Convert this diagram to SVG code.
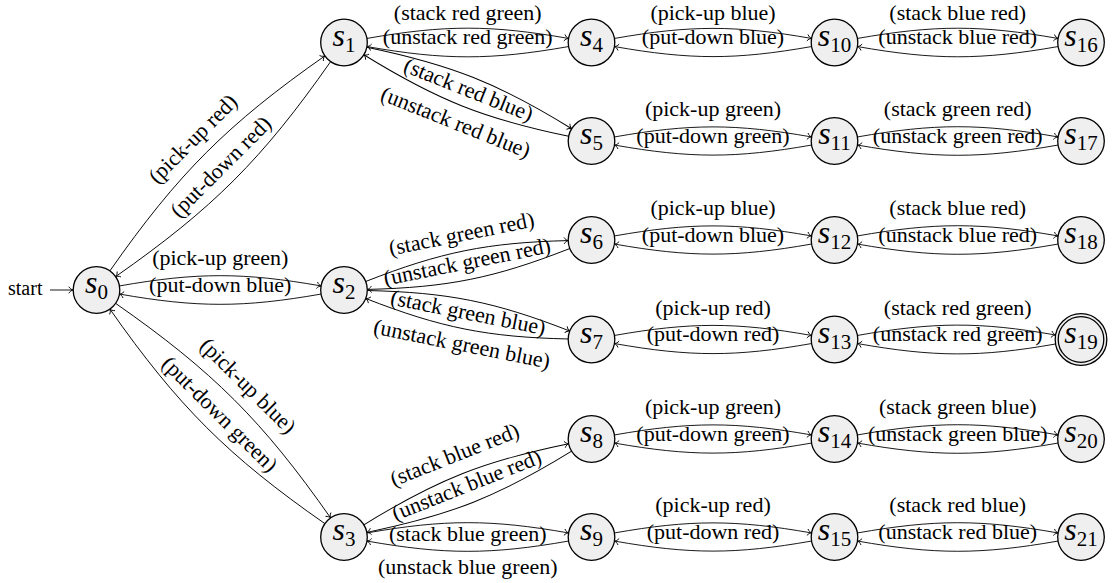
<svg xmlns="http://www.w3.org/2000/svg" width="1116" height="583" viewBox="0 0 1116 583">
<style>
.e{fill:none;stroke:#000;stroke-width:0.9;marker-end:url(#arr)}
.n{fill:#efefef;stroke:#000;stroke-width:1.3}
.l{font-family:"Liberation Serif",serif;font-size:22px;text-anchor:middle;fill:#000}
.nl{font-family:"Liberation Serif",serif;font-style:italic;font-size:32px;text-anchor:middle;fill:#000}
.sub{font-style:normal;font-size:21px}
</style>
<defs>
<marker id="arr" viewBox="-6 -5 8 10" refX="0" refY="0" markerWidth="8" markerHeight="10" markerUnits="userSpaceOnUse" orient="auto" overflow="visible">
<path d="M-4.2,-3.3 C-3,-1.2 -1.2,-0.3 0,0 C-1.2,0.3 -3,1.2 -4.2,3.3" fill="none" stroke="#000" stroke-width="0.9"/>
</marker>
</defs>
<rect width="1116" height="583" fill="#fff"/>
<g id="connectors">
<g id="start-arrow"><line class="e" x1="50" y1="290" x2="73" y2="290"/></g>
<g id="e0-1" transform="translate(96.5,290) rotate(-45)">
<path class="e" d="M22.95,-4.05 C140.19,-24.72 209.81,-24.72 327.05,-4.05"/>
<path class="e" d="M327.05,4.05 C209.81,24.72 140.19,24.72 22.95,4.05"/>
</g>
<g id="e0-2" transform="translate(96.5,290)">
<path class="e" d="M22.95,-4.05 C100.68,-17.75 146.82,-17.75 224.55,-4.05"/>
<path class="e" d="M224.55,4.05 C146.82,17.75 100.68,17.75 22.95,4.05"/>
</g>
<g id="e0-3" transform="translate(96.5,290) rotate(44.94)">
<path class="e" d="M22.95,-4.05 C140.19,-24.72 209.81,-24.72 326.75,-4.05"/>
<path class="e" d="M326.75,4.05 C209.81,24.72 140.19,24.72 22.95,4.05"/>
</g>
<g id="e1-4" transform="translate(344,42.5)">
<path class="e" d="M22.95,-4.05 C100.68,-17.75 146.82,-17.75 224.55,-4.05"/>
<path class="e" d="M224.55,4.05 C146.82,17.75 100.68,17.75 22.95,4.05"/>
</g>
<g id="e1-5" transform="translate(344,42.5) rotate(21.7)">
<path class="e" d="M22.95,-4.05 C107.97,-19.04 158.43,-19.04 243.45,-4.05"/>
<path class="e" d="M243.45,4.05 C158.43,19.04 107.97,19.04 22.95,4.05"/>
</g>
<g id="e2-6" transform="translate(344,290) rotate(-11.42)">
<path class="e" d="M22.95,-4.05 C102.6,-18.09 149.9,-18.09 229.55,-4.05"/>
<path class="e" d="M229.55,4.05 C149.9,18.09 102.6,18.09 22.95,4.05"/>
</g>
<g id="e2-7" transform="translate(344,290) rotate(11.31)">
<path class="e" d="M22.95,-4.05 C102.6,-18.09 149.9,-18.09 229.45,-4.05"/>
<path class="e" d="M229.45,4.05 C149.9,18.09 102.6,18.09 22.95,4.05"/>
</g>
<g id="e3-8" transform="translate(344,537) rotate(-21.6)">
<path class="e" d="M22.95,-4.05 C107.97,-19.04 158.23,-19.04 243.25,-4.05"/>
<path class="e" d="M243.25,4.05 C158.23,19.04 107.97,19.04 22.95,4.05"/>
</g>
<g id="e3-9" transform="translate(344,537)">
<path class="e" d="M22.95,-4.05 C100.68,-17.75 146.82,-17.75 224.55,-4.05"/>
<path class="e" d="M224.55,4.05 C146.82,17.75 100.68,17.75 22.95,4.05"/>
</g>
<g id="e4-10" transform="translate(591.5,42.5)">
<path class="e" d="M22.95,-4.05 C98.94,-17.45 144.06,-17.45 220.05,-4.05"/>
<path class="e" d="M220.05,4.05 C144.06,17.45 98.94,17.45 22.95,4.05"/>
</g>
<g id="e5-11" transform="translate(591.5,141)">
<path class="e" d="M22.95,-4.05 C98.94,-17.45 144.06,-17.45 220.05,-4.05"/>
<path class="e" d="M220.05,4.05 C144.06,17.45 98.94,17.45 22.95,4.05"/>
</g>
<g id="e6-12" transform="translate(591.5,240)">
<path class="e" d="M22.95,-4.05 C98.94,-17.45 144.06,-17.45 220.05,-4.05"/>
<path class="e" d="M220.05,4.05 C144.06,17.45 98.94,17.45 22.95,4.05"/>
</g>
<g id="e7-13" transform="translate(591.5,339.5)">
<path class="e" d="M22.95,-4.05 C98.94,-17.45 144.06,-17.45 220.05,-4.05"/>
<path class="e" d="M220.05,4.05 C144.06,17.45 98.94,17.45 22.95,4.05"/>
</g>
<g id="e8-14" transform="translate(591.5,439)">
<path class="e" d="M22.95,-4.05 C98.94,-17.45 144.06,-17.45 220.05,-4.05"/>
<path class="e" d="M220.05,4.05 C144.06,17.45 98.94,17.45 22.95,4.05"/>
</g>
<g id="e9-15" transform="translate(591.5,537)">
<path class="e" d="M22.95,-4.05 C98.94,-17.45 144.06,-17.45 220.05,-4.05"/>
<path class="e" d="M220.05,4.05 C144.06,17.45 98.94,17.45 22.95,4.05"/>
</g>
<g id="e10-16" transform="translate(834.5,42.5)">
<path class="e" d="M22.95,-4.05 C100.29,-17.68 146.21,-17.68 223.55,-4.05"/>
<path class="e" d="M223.55,4.05 C146.21,17.68 100.29,17.68 22.95,4.05"/>
</g>
<g id="e11-17" transform="translate(834.5,141)">
<path class="e" d="M22.95,-4.05 C100.29,-17.68 146.21,-17.68 223.55,-4.05"/>
<path class="e" d="M223.55,4.05 C146.21,17.68 100.29,17.68 22.95,4.05"/>
</g>
<g id="e12-18" transform="translate(834.5,240)">
<path class="e" d="M22.95,-4.05 C100.29,-17.68 146.21,-17.68 223.55,-4.05"/>
<path class="e" d="M223.55,4.05 C146.21,17.68 100.29,17.68 22.95,4.05"/>
</g>
<g id="e13-19" transform="translate(834.5,339.5)">
<path class="e" d="M22.95,-4.05 C99.35,-17.55 144.69,-17.98 221.09,-4.48"/>
<path class="e" d="M221.09,4.48 C144.69,17.98 99.35,17.55 22.95,4.05"/>
</g>
<g id="e14-20" transform="translate(834.5,439)">
<path class="e" d="M22.95,-4.05 C100.29,-17.68 146.21,-17.68 223.55,-4.05"/>
<path class="e" d="M223.55,4.05 C146.21,17.68 100.29,17.68 22.95,4.05"/>
</g>
<g id="e15-21" transform="translate(834.5,537)">
<path class="e" d="M22.95,-4.05 C100.29,-17.68 146.21,-17.68 223.55,-4.05"/>
<path class="e" d="M223.55,4.05 C146.21,17.68 100.29,17.68 22.95,4.05"/>
</g>
</g>
<g id="labels">
<text class="l" x="8" y="295" style="text-anchor:start;font-size:20px">start</text>
<g transform="translate(96.5,290) rotate(-45)"><text class="l" x="175" y="-31.5">(pick-up red)</text><text class="l" x="175" y="8">(put-down red)</text></g>
<g transform="translate(96.5,290)"><text class="l" x="123.75" y="-25">(pick-up green)</text><text class="l" x="123.75" y="1.5">(put-down blue)</text></g>
<g transform="translate(96.5,290) rotate(44.94)"><text class="l" x="175" y="-32">(pick-up blue)</text><text class="l" x="175" y="8">(put-down green)</text></g>
<g transform="translate(344,42.5)"><text class="l" x="123.75" y="-22.5">(stack red green)</text><text class="l" x="123.75" y="1.5">(unstack red green)</text></g>
<g transform="translate(344,42.5) rotate(21.7)"><text class="l" x="133.2" y="5">(stack red blue)</text><text class="l" x="133.2" y="40">(unstack red blue)</text></g>
<g transform="translate(344,290) rotate(-11.42)"><text class="l" x="126.25" y="-24.5">(stack green red)</text><text class="l" x="126.25" y="4">(unstack green red)</text></g>
<g transform="translate(344,290) rotate(11.31)"><text class="l" x="126.2" y="5">(stack green blue)</text><text class="l" x="126.2" y="37">(unstack green blue)</text></g>
<g transform="translate(344,537) rotate(-21.6)"><text class="l" x="133.1" y="-28.5">(stack blue red)</text><text class="l" x="133.1" y="4">(unstack blue red)</text></g>
<g transform="translate(344,537)"><text class="l" x="123.75" y="4">(stack blue green)</text><text class="l" x="123.75" y="37">(unstack blue green)</text></g>
<g transform="translate(591.5,42.5)"><text class="l" x="121.5" y="-22.5">(pick-up blue)</text><text class="l" x="121.5" y="1.5">(put-down blue)</text></g>
<g transform="translate(591.5,141)"><text class="l" x="121.5" y="-25">(pick-up green)</text><text class="l" x="121.5" y="1.5">(put-down green)</text></g>
<g transform="translate(591.5,240)"><text class="l" x="121.5" y="-25">(pick-up blue)</text><text class="l" x="121.5" y="1.5">(put-down blue)</text></g>
<g transform="translate(591.5,339.5)"><text class="l" x="121.5" y="-25">(pick-up red)</text><text class="l" x="121.5" y="1.5">(put-down red)</text></g>
<g transform="translate(591.5,439)"><text class="l" x="121.5" y="-25">(pick-up green)</text><text class="l" x="121.5" y="1.5">(put-down green)</text></g>
<g transform="translate(591.5,537)"><text class="l" x="121.5" y="-25">(pick-up red)</text><text class="l" x="121.5" y="1.5">(put-down red)</text></g>
<g transform="translate(834.5,42.5)"><text class="l" x="123.25" y="-22.5">(stack blue red)</text><text class="l" x="123.25" y="1.5">(unstack blue red)</text></g>
<g transform="translate(834.5,141)"><text class="l" x="123.25" y="-25">(stack green red)</text><text class="l" x="123.25" y="1.5">(unstack green red)</text></g>
<g transform="translate(834.5,240)"><text class="l" x="123.25" y="-25">(stack blue red)</text><text class="l" x="123.25" y="1.5">(unstack blue red)</text></g>
<g transform="translate(834.5,339.5)"><text class="l" x="123.25" y="-25">(stack red green)</text><text class="l" x="123.25" y="1.5">(unstack red green)</text></g>
<g transform="translate(834.5,439)"><text class="l" x="123.25" y="-25">(stack green blue)</text><text class="l" x="123.25" y="1.5">(unstack green blue)</text></g>
<g transform="translate(834.5,537)"><text class="l" x="123.25" y="-25">(stack red blue)</text><text class="l" x="123.25" y="1.5">(unstack red blue)</text></g>
</g>
<g id="nodes">
<g id="s0"><circle class="n" cx="96.5" cy="290" r="23.3"/><text class="nl" x="96.5" y="293">s<tspan class="sub" dy="6">0</tspan></text></g>
<g id="s1"><circle class="n" cx="344" cy="42.5" r="23.3"/><text class="nl" x="344" y="45.5">s<tspan class="sub" dy="6">1</tspan></text></g>
<g id="s2"><circle class="n" cx="344" cy="290" r="23.3"/><text class="nl" x="344" y="293">s<tspan class="sub" dy="6">2</tspan></text></g>
<g id="s3"><circle class="n" cx="344" cy="537" r="23.3"/><text class="nl" x="344" y="540">s<tspan class="sub" dy="6">3</tspan></text></g>
<g id="s4"><circle class="n" cx="591.5" cy="42.5" r="23.3"/><text class="nl" x="591.5" y="45.5">s<tspan class="sub" dy="6">4</tspan></text></g>
<g id="s5"><circle class="n" cx="591.5" cy="141" r="23.3"/><text class="nl" x="591.5" y="144">s<tspan class="sub" dy="6">5</tspan></text></g>
<g id="s6"><circle class="n" cx="591.5" cy="240" r="23.3"/><text class="nl" x="591.5" y="243">s<tspan class="sub" dy="6">6</tspan></text></g>
<g id="s7"><circle class="n" cx="591.5" cy="339.5" r="23.3"/><text class="nl" x="591.5" y="342.5">s<tspan class="sub" dy="6">7</tspan></text></g>
<g id="s8"><circle class="n" cx="591.5" cy="439" r="23.3"/><text class="nl" x="591.5" y="442">s<tspan class="sub" dy="6">8</tspan></text></g>
<g id="s9"><circle class="n" cx="591.5" cy="537" r="23.3"/><text class="nl" x="591.5" y="540">s<tspan class="sub" dy="6">9</tspan></text></g>
<g id="s10"><circle class="n" cx="834.5" cy="42.5" r="23.3"/><text class="nl" x="834.5" y="45.5">s<tspan class="sub" dy="6">10</tspan></text></g>
<g id="s11"><circle class="n" cx="834.5" cy="141" r="23.3"/><text class="nl" x="834.5" y="144">s<tspan class="sub" dy="6">11</tspan></text></g>
<g id="s12"><circle class="n" cx="834.5" cy="240" r="23.3"/><text class="nl" x="834.5" y="243">s<tspan class="sub" dy="6">12</tspan></text></g>
<g id="s13"><circle class="n" cx="834.5" cy="339.5" r="23.3"/><text class="nl" x="834.5" y="342.5">s<tspan class="sub" dy="6">13</tspan></text></g>
<g id="s14"><circle class="n" cx="834.5" cy="439" r="23.3"/><text class="nl" x="834.5" y="442">s<tspan class="sub" dy="6">14</tspan></text></g>
<g id="s15"><circle class="n" cx="834.5" cy="537" r="23.3"/><text class="nl" x="834.5" y="540">s<tspan class="sub" dy="6">15</tspan></text></g>
<g id="s16"><circle class="n" cx="1081" cy="42.5" r="23.3"/><text class="nl" x="1081" y="45.5">s<tspan class="sub" dy="6">16</tspan></text></g>
<g id="s17"><circle class="n" cx="1081" cy="141" r="23.3"/><text class="nl" x="1081" y="144">s<tspan class="sub" dy="6">17</tspan></text></g>
<g id="s18"><circle class="n" cx="1081" cy="240" r="23.3"/><text class="nl" x="1081" y="243">s<tspan class="sub" dy="6">18</tspan></text></g>
<g id="s19"><circle class="n" cx="1081" cy="339.5" r="25.8"/><circle class="n" cx="1081" cy="339.5" r="22.8"/><text class="nl" x="1081" y="342.5">s<tspan class="sub" dy="6">19</tspan></text></g>
<g id="s20"><circle class="n" cx="1081" cy="439" r="23.3"/><text class="nl" x="1081" y="442">s<tspan class="sub" dy="6">20</tspan></text></g>
<g id="s21"><circle class="n" cx="1081" cy="537" r="23.3"/><text class="nl" x="1081" y="540">s<tspan class="sub" dy="6">21</tspan></text></g>
</g>
</svg>
